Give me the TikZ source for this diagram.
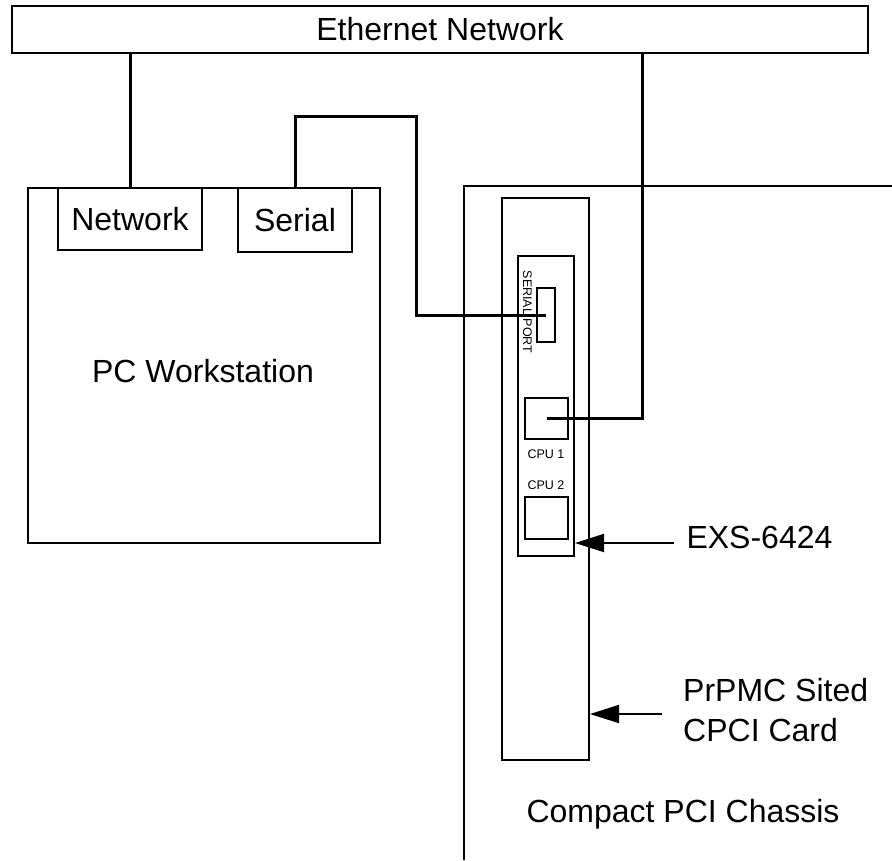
\documentclass[tikz,border=0pt]{standalone}
\usepackage{fontspec}
\setmainfont{Liberation Sans}
\usepackage{tikz}
\usetikzlibrary{positioning, arrows.meta}

\begin{document}
\begin{tikzpicture}[x=1pt, y=-1pt,
    box/.style={draw, line width=2pt, inner sep=0pt},
    cable/.style={line width=3pt},
    pointer/.style={line width=2pt, -{Triangle[length=29pt, width=18pt]}},
    bigtext/.style={font=\fontsize{32}{40}\selectfont},
    smalltext/.style={font=\fontsize{12.5}{14}\selectfont}]
                \useasboundingbox (0,0) rectangle (892,860);
                % Nodos
                \node[box, bigtext, minimum width=856pt, minimum height=47pt] (eth) at (440,29.5) {Ethernet Network};
                \node[box, minimum width=352pt, minimum height=355pt] (pc) at (204,365.5) {};
                \node[box, bigtext, minimum width=144pt, minimum height=62pt] (netport) at (130,219) {Network};
                \node[box, bigtext, minimum width=114pt, minimum height=64pt] (serport) at (295,220) {Serial};
                \node[bigtext] (pclabel) at (203,371) {PC Workstation};

                % Chasis y tarjeta
                \coordinate (chbot) at (464,860);
                \coordinate (chtop) at (464,186);
                \coordinate (chright) at (892,186);
                \draw[line width=2pt] (chbot) -- (chtop) -- (chright);
                \node[box, minimum width=87pt, minimum height=562pt] (card) at (545.5,479) {};
                \node[box, minimum width=56pt, minimum height=300pt] (exs) at (546,406) {};
                \node[box, minimum width=18pt, minimum height=54pt] (sp) at (546,315) {};
                \node[smalltext, rotate=-90] (splabel) at (527.5,312) {SERIAL PORT};
                \node[box, minimum width=43pt, minimum height=41pt] (cpu1) at (546.5,418.5) {};
                \node[smalltext] (cpu1label) at (546,454) {CPU 1};
                \node[smalltext] (cpu2label) at (546,485.5) {CPU 2};
                \node[box, minimum width=43pt, minimum height=42pt] (cpu2) at (546.5,518) {};

                % Conexiones
                \coordinate (ethdrop) at (642,0);
                \coordinate (sbend) at (416,116);
                \draw[cable] (eth.south -| netport.north) -- (netport.north);
                \draw[cable] (eth.south -| ethdrop) |- (cpu1.center);
                \draw[cable] (serport.north) |- (sbend) |- (sp.center);

                % Etiquetas
                \node[bigtext, anchor=base west] (exslabel) at (683,548) {EXS-6424};
                \node[bigtext, anchor=west, align=left, inner sep=0pt] (cardlabel) at (683,710.5) {PrPMC Sited\\CPCI Card};
                \node[bigtext, anchor=base] (chlabel) at (683,822) {Compact PCI Chassis};
                \coordinate (exstail) at (674,543);
                \coordinate (cardtail) at (662,714);
                \draw[pointer] (exstail) -- (exstail -| exs.east);
                \draw[pointer] (cardtail) -- (cardtail -| card.east);
            \end{tikzpicture}
\end{document}
